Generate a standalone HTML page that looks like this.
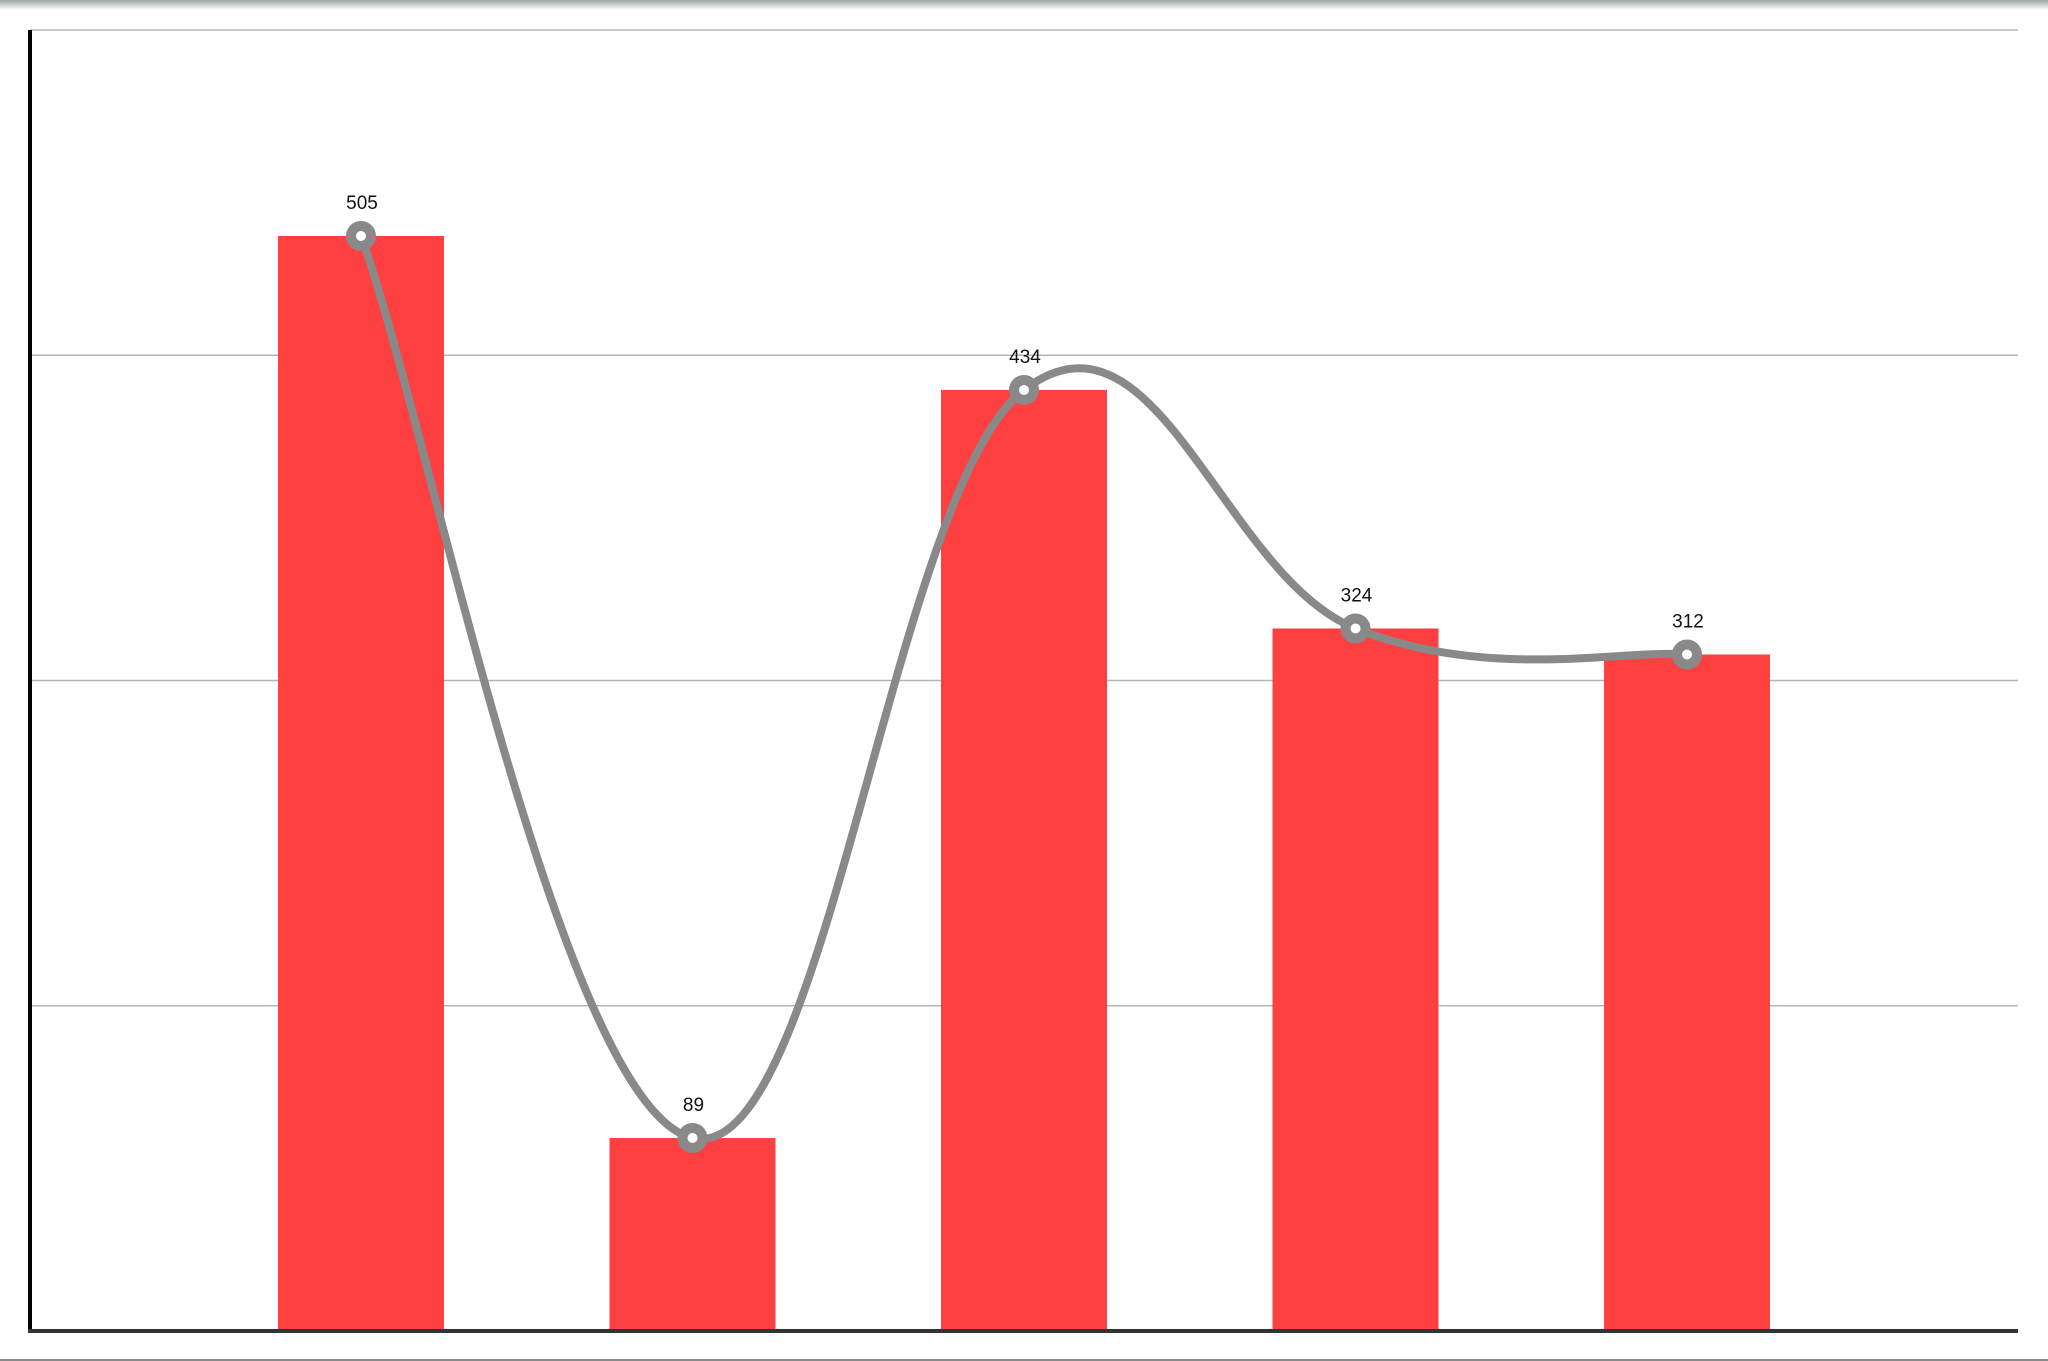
<!DOCTYPE html>
<html><head><meta charset="utf-8"><style>
html,body{margin:0;padding:0;background:#fff;}
svg{display:block;}
</style></head><body>
<svg id="chart" width="2048" height="1361" viewBox="0 0 2048 1361" xmlns="http://www.w3.org/2000/svg" font-family="Liberation Sans, sans-serif">
<defs><linearGradient id="topShade" x1="0" y1="0" x2="0" y2="1"><stop offset="0" stop-color="#9aa7a7"/><stop offset="1" stop-color="#ffffff"/></linearGradient></defs>
<rect x="0" y="0" width="2048" height="10" fill="url(#topShade)"/>
<line x1="0" y1="1360" x2="2048" y2="1360" stroke="#8a8a8a" stroke-width="2"/>
<g id="grid"></g><g id="bars"></g><g id="line"></g><g id="labels"></g>
<line x1="30" y1="30" x2="30" y2="1333" stroke="#000" stroke-width="4"/>
<line x1="28" y1="1331" x2="2018" y2="1331" stroke="#333" stroke-width="4"/>
</svg>
<script>
const categories = ["A","B","C","D","E"];
const values = [505, 89, 434, 324, 312];
const gridTicks = [0, 150, 300, 450, 600];

const NS = "http://www.w3.org/2000/svg";
const x0 = 30, x1 = 2018, yBase = 1331, yTop = 30, yMax = 600;
const firstCenter = 361, step = 331.5, barW = 166;
function xScale(i){ return firstCenter + i*step; }
function yScale(v){ return yBase - v/yMax*(yBase-yTop); }
function mk(tag, attrs, parent){ const e=document.createElementNS(NS,tag); for(const k in attrs) e.setAttribute(k,attrs[k]); parent.appendChild(e); return e; }

const grid = document.getElementById('grid');
gridTicks.forEach(t=>{
  if(t===0) return;
  const l = mk('line',{x1:x0,x2:x1,y1:yScale(t),y2:yScale(t),stroke:'#b5b5b5','stroke-width':1.5},grid);
  
  
});

const bars = document.getElementById('bars');
values.forEach((v,i)=>{
  const r = mk('rect',{x:xScale(i)-barW/2,y:yScale(v),width:barW,height:yBase-yScale(v),fill:'#ff4040'},bars);
  
  
});

const pts = values.map((v,i)=>[xScale(i),yScale(v)]);
let d = 'M'+pts[0][0]+','+pts[0][1];
const k = 0.2;
for(let i=0;i<pts.length-1;i++){
  const p0=pts[Math.max(i-1,0)], p1=pts[i], p2=pts[i+1], p3=pts[Math.min(i+2,pts.length-1)];
  const c1=[p1[0]+(p2[0]-p0[0])*k, p1[1]+(p2[1]-p0[1])*k];
  const c2=[p2[0]-(p3[0]-p1[0])*k, p2[1]-(p3[1]-p1[1])*k];
  d+=' C'+c1[0]+','+c1[1]+' '+c2[0]+','+c2[1]+' '+p2[0]+','+p2[1];
}
const lineG = document.getElementById('line');
const path = mk('path',{d:d,fill:'none',stroke:'#898989','stroke-width':8,'stroke-linecap':'round'},lineG);


pts.forEach((p,i)=>{
  const c = mk('circle',{cx:p[0],cy:p[1],r:10,fill:'#fff',stroke:'#898989','stroke-width':10},lineG);
  
  
});

const labels = document.getElementById('labels');
values.forEach((v,i)=>{
  const t = mk('text',{x:xScale(i)+1,y:yScale(v)-27,'text-anchor':'middle','font-size':19,fill:'#111'},labels);
  t.textContent = v;
  
  
});
</script>
</body></html>
